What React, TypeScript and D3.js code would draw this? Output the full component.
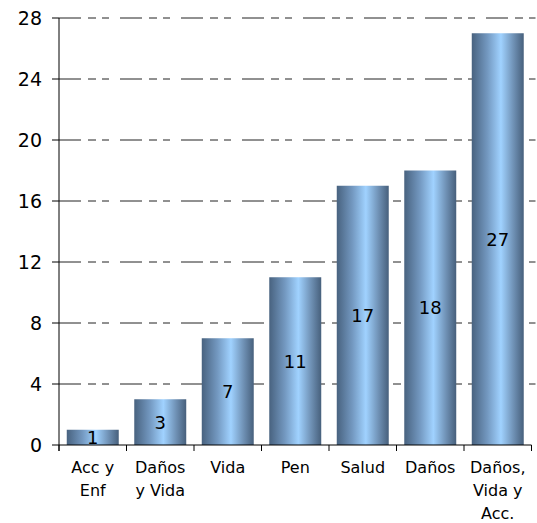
import React from "react";
import * as d3 from "d3";

const categories: string[][] = [
  ["Acc y", "Enf"],
  ["Daños", "y Vida"],
  ["Vida"],
  ["Pen"],
  ["Salud"],
  ["Daños"],
  ["Daños,", "Vida y", "Acc."],
];
const values: number[] = [1, 3, 7, 11, 17, 18, 27];
const yTicks: number[] = [0, 4, 8, 12, 16, 20, 24, 28];

const W = 537;
const H = 523;
const margin = { left: 59, right: 5, top: 18, bottom: 78 };
const FONT = "'DejaVu Sans', Verdana, sans-serif";

export default function App() {
  const x = d3
    .scaleBand<number>()
    .domain(values.map((_, i) => i))
    .range([margin.left, W - margin.right - 0.5])
    .paddingInner(0.23)
    .paddingOuter(0.115);
  const y = d3.scaleLinear().domain([0, 28]).range([H - margin.bottom, margin.top]);
  const step = x.step();
  const x0 = margin.left;
  const x1 = margin.left + step * values.length;
  const yBase = y(0);

  return (
    <svg
      width={W}
      height={H}
      style={{ position: "absolute", left: 0, top: 0, background: "#fff" }}
      fontFamily={FONT}
    >
      <defs>
        <linearGradient id="barGrad" x1="0" x2="1" y1="0" y2="0">
          <stop offset="0" stopColor="#48627f" />
          <stop offset="0.3" stopColor="#7398c0" />
          <stop offset="0.56" stopColor="#a0d2ff" />
          <stop offset="0.8" stopColor="#7092b6" />
          <stop offset="1" stopColor="#47607c" />
        </linearGradient>
      </defs>

      {/* horizontal gridlines */}
      {yTicks
        .filter((t) => t > 0)
        .map((t) => (
          <line
            key={`g${t}`}
            x1={x0}
            x2={x1 + 4}
            y1={y(t)}
            y2={y(t)}
            stroke="#222"
            strokeWidth={1}
            strokeDasharray="22,7,8,6,7,11"
          />
        ))}

      {/* bars */}
      {values.map((v, i) => (
        <rect
          key={`b${i}`}
          x={x(i)}
          y={y(v)}
          width={x.bandwidth()}
          height={yBase - y(v)}
          fill="url(#barGrad)"
        />
      ))}

      {/* value labels */}
      {values.map((v, i) => (
        <text
          key={`v${i}`}
          x={(x(i) ?? 0) + x.bandwidth() / 2}
          y={(y(v) + yBase) / 2}
          dy="0.36em"
          textAnchor="middle"
          fontSize={18}
          fill="#000"
        >
          {v}
        </text>
      ))}

      {/* y axis */}
      <line x1={x0} x2={x0} y1={margin.top} y2={yBase + 6} stroke="#000" />
      {yTicks.map((t) => (
        <g key={`y${t}`}>
          <line x1={x0 - 7} x2={x0} y1={y(t)} y2={y(t)} stroke="#000" />
          <text x={x0 - 17} y={y(t)} dy="0.36em" textAnchor="end" fontSize={19} fill="#000">
            {t}
          </text>
        </g>
      ))}

      {/* x axis */}
      <line x1={x0} x2={x1} y1={yBase} y2={yBase} stroke="#000" />
      {d3.range(values.length + 1).map((k) => (
        <line
          key={`xt${k}`}
          x1={x0 + k * step}
          x2={x0 + k * step}
          y1={yBase}
          y2={yBase + 6}
          stroke="#000"
        />
      ))}
      {categories.map((lines, i) => (
        <text
          key={`c${i}`}
          x={(x(i) ?? 0) + x.bandwidth() / 2}
          y={yBase + 28}
          textAnchor="middle"
          fontSize={16}
          fill="#000"
        >
          {lines.map((l, j) => (
            <tspan key={j} x={(x(i) ?? 0) + x.bandwidth() / 2} dy={j === 0 ? 0 : 23}>
              {l}
            </tspan>
          ))}
        </text>
      ))}
    </svg>
  );
}
